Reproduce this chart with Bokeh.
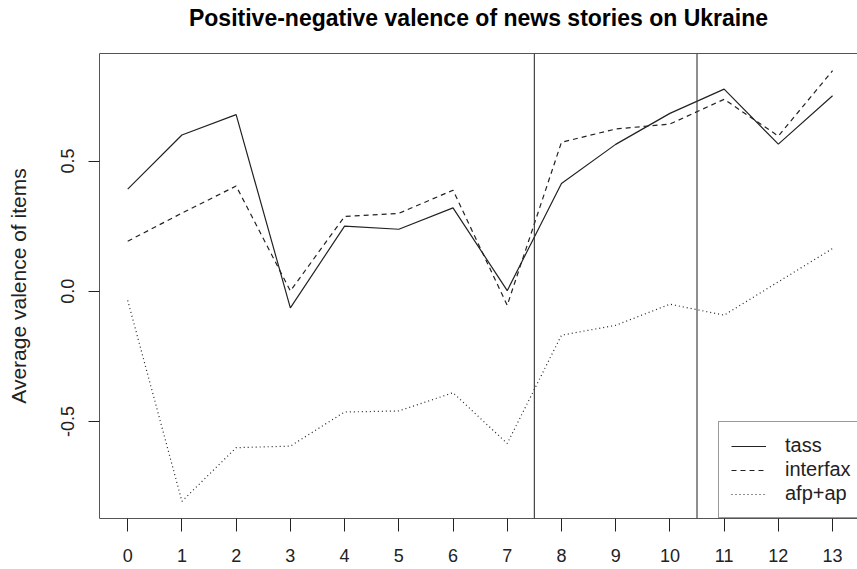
from bokeh.plotting import figure
from bokeh.models import Range1d, FixedTicker, LinearAxis, Span, Legend, LegendItem
from bokeh.embed import file_html
from bokeh.resources import INLINE

# ---- data ----
weeks = list(range(14))
tass = [0.392, 0.600, 0.678, -0.064, 0.250, 0.238, 0.320, 0.002, 0.414, 0.564, 0.683, 0.776, 0.565, 0.751]
interfax = [0.192, 0.300, 0.404, 0.001, 0.287, 0.299, 0.388, -0.054, 0.572, 0.623, 0.642, 0.737, 0.596, 0.847]
afp_ap = [-0.035, -0.807, -0.601, -0.595, -0.464, -0.460, -0.390, -0.585, -0.169, -0.131, -0.050, -0.092, 0.036, 0.164]
series_names = ["tass", "interfax", "afp+ap"]
period_breaks = [7.5, 10.5]
y_ticks = [-0.5, 0.0, 0.5]
y_tick_labels = ["-0.5", "0.0", "0.5"]
x_tick_labels = [str(w) for w in weeks]
title_text = "Positive-negative valence of news stories on Ukraine"

FONT = "Liberation Sans"
INK = "#222222"

p = figure(width=857, height=569, output_backend="svg", toolbar_location=None,
           x_range=Range1d(-0.52, 13.46), y_range=Range1d(-0.873, 0.913),
           min_border_left=99, min_border_right=0, min_border_top=53, min_border_bottom=51,
           x_axis_location=None, y_axis_location=None)
p.grid.visible = False
p.outline_line_color = None
p.background_fill_color = "white"
p.border_fill_color = "white"

# title
p.title.text = title_text
p.title.align = "center"
p.title.text_font = FONT
p.title.text_font_size = "23px"
p.title.text_font_style = "bold"
p.title.text_color = "black"
p.title.standoff = 0

# bottom axis
xa = LinearAxis(ticker=FixedTicker(ticks=weeks))
xa.major_label_overrides = {w: lab for w, lab in zip(weeks, x_tick_labels)}
xa.major_tick_out = 13
xa.major_tick_in = 0
xa.minor_tick_out = 0
xa.minor_tick_in = 0
xa.major_label_standoff = 17
xa.major_label_text_font = FONT
xa.major_label_text_font_size = "18px"
xa.major_label_text_color = INK
xa.axis_line_color = "#555555"
xa.major_tick_line_color = INK
p.add_layout(xa, "below")

# left axis
ya = LinearAxis(ticker=FixedTicker(ticks=y_ticks))
ya.major_label_overrides = {t: lab for t, lab in zip(y_ticks, y_tick_labels)}
ya.major_label_orientation = "vertical"
ya.major_tick_out = 11
ya.major_tick_in = 0
ya.minor_tick_out = 0
ya.minor_tick_in = 0
ya.major_label_standoff = 14
ya.major_label_text_font = FONT
ya.major_label_text_font_size = "18px"
ya.major_label_text_color = INK
ya.axis_line_color = "#555555"
ya.major_tick_line_color = INK
ya.axis_label = "Average valence of items"
ya.axis_label_text_font = FONT
ya.axis_label_text_font_size = "21px"
ya.axis_label_text_font_style = "normal"
ya.axis_label_text_color = INK
ya.axis_label_standoff = 29
p.add_layout(ya, "left")

# top box line (its invisible label acts as a spacer below the title)
ta = LinearAxis(ticker=FixedTicker(ticks=[]))
ta.major_tick_out = 0
ta.major_tick_in = 0
ta.minor_tick_out = 0
ta.minor_tick_in = 0
ta.major_label_standoff = 0
ta.axis_line_color = "#555555"
ta.axis_label = "."
ta.axis_label_text_alpha = 0
ta.axis_label_text_font_size = "12px"
ta.axis_label_standoff = 11
p.add_layout(ta, "above")

# series
r1 = p.line(weeks, tass, line_color=INK, line_width=1.2)
r2 = p.line(weeks, interfax, line_color=INK, line_width=1.2, line_dash="5 4")
r3 = p.line(weeks, afp_ap, line_color=INK, line_width=1.2, line_dash="1 3")

for b in period_breaks:
    p.add_layout(Span(location=b, dimension="height", line_color="#333333", line_width=1.1))

legend = Legend(items=[LegendItem(label=series_names[0], renderers=[r1]),
                       LegendItem(label=series_names[1], renderers=[r2]),
                       LegendItem(label=series_names[2], renderers=[r3])],
                location=(619, 0), margin=0, padding=12, spacing=1,
                glyph_width=35, glyph_height=10, label_height=10, label_standoff=19,
                label_text_font=FONT, label_text_font_size="20px", label_text_color=INK,
                border_line_color="#333333", border_line_width=1,
                background_fill_color="white", background_fill_alpha=1)
p.add_layout(legend)

open("out.html", "w").write(file_html(p, INLINE))
